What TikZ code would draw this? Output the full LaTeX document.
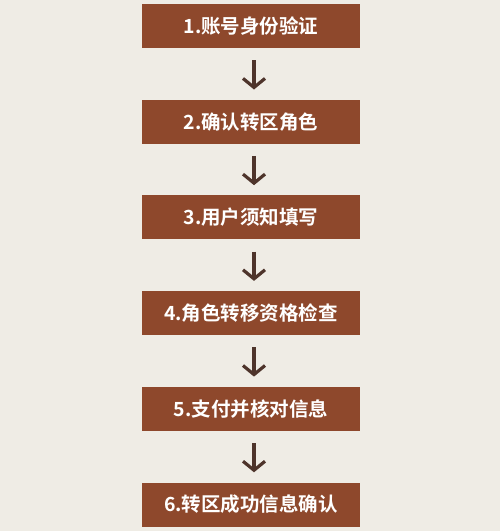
\documentclass[tikz,border=0pt]{standalone}
\usepackage{fontspec}
\newfontfamily\cjk{Noto Sans CJK SC Bold}
\usetikzlibrary{positioning,arrows.meta}
\definecolor{paper}{HTML}{EFECE5}
\definecolor{brick}{HTML}{8E482C}
\definecolor{arrowbrown}{HTML}{4E342B}
\begin{document}
\begin{tikzpicture}[x=1pt,y=1pt]
\tikzstyle{stepbox}=[rectangle,fill=brick,text=white,minimum width=218pt,minimum height=44pt,font=\cjk\fontsize{19.5}{21}\selectfont]
\tikzstyle{flow}=[draw=arrowbrown,line width=3.2pt,-{Straight Barb[length=9pt,width=22pt]}]
\fill [paper] (0,0) rectangle (500,-531);
\useasboundingbox (0,0) rectangle (500,-531);
\node [stepbox] (s1) at (251,-26) {1.账号身份验证};
\node [stepbox,below=51.3pt of s1] (s2) {2.确认转区角色};
\node [stepbox,below=51.3pt of s2] (s3) {3.用户须知填写};
\node [stepbox,below=51.3pt of s3] (s4) {4.角色转移资格检查};
\node [stepbox,below=51.3pt of s4] (s5) {5.支付并核对信息};
\node [stepbox,below=51.3pt of s5] (s6) {6.转区成功信息确认};
\foreach \a/\b in {s1/s2,s2/s3,s3/s4,s4/s5,s5/s6}
  \draw [flow] ([xshift=3pt,yshift=-12pt]\a.south) -- ([xshift=3pt,yshift=10pt]\b.north);
\end{tikzpicture}
\end{document}
